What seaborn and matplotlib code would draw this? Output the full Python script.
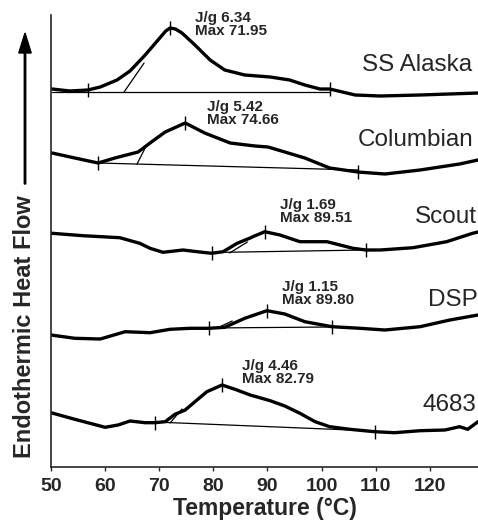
import seaborn as sns
import numpy as np
import matplotlib.pyplot as plt
import pandas as pd

# DSC scans, temperature (°C) vs endothermic heat flow (arbitrary, stacked units)
alaska_t = [50.2, 53.5, 56.8, 59.1, 62.2, 64.6, 67.4, 70.1, 71.2, 72.0, 73.0, 74.2, 76.6, 79.4,
            82.1, 85.8, 90.5, 94.1, 96.9, 99.7, 101.5, 106.2, 110.8, 118.2, 128.9]
alaska_hf = [378, 376, 377, 380, 387, 396, 412, 429, 436, 439, 438, 434, 422, 407,
             397, 392, 390, 387, 382, 378, 378, 372, 371, 372, 374]

columbian_t = [50.2, 54.4, 58.7, 61.8, 66.1, 68.3, 71.1, 74.8, 78.4, 83.1, 87.7, 90.1,
               93.2, 96.9, 101.5, 106.7, 111.7, 118.2, 125.5, 128.9]
columbian_hf = [314, 309, 304, 309, 315, 324, 335, 344, 334, 324, 321, 320,
                315, 309, 299, 295, 293, 297, 303, 307]

scout_t = [50.2, 55.9, 62.7, 66.4, 68.3, 70.7, 74.4, 77.0, 79.7, 81.8, 84.4, 86.8,
           87.3, 89.5, 92.3, 96.0, 101.0, 103.4, 105.8, 108.2, 110.8, 116.9, 123.1,
           127.9, 128.9]
scout_hf = [233.7, 231.3, 229.3, 223.7, 218.7, 214.7, 217, 215.3, 213.7, 215.3, 223.7, 229,
            230.3, 235.3, 232, 225.3, 225.3, 222, 218.7, 217, 217, 219.3, 225.3,
            233.7, 235]

dsp_t = [50.0, 54.4, 59.1, 63.7, 68.3, 72.0, 75.7, 79.2, 82.1, 85.8, 89.9, 93.2,
         96.9, 101.9, 107.1, 111.7, 118.2, 123.7, 128.9]
dsp_hf = [132, 128.7, 128, 135.3, 134.3, 137.7, 138.7, 138.7, 139.7, 148.7, 156.3, 153,
          145.3, 140.3, 138.7, 137, 140.3, 147, 152]

s4683_t = [50.0, 54.4, 60.0, 62.4, 64.6, 67.4, 69.2, 71.1, 72.9, 74.8, 76.6, 78.8,
           81.6, 84.0, 86.8, 90.5, 93.2, 96.0, 98.8, 101.5, 105.2, 109.8, 113.5,
           118.2, 122.8, 125.5, 127.0, 128.9]
s4683_hf = [54.3, 47.7, 39.7, 42, 46, 44.3, 44.3, 45.3, 52.7, 57, 65.3, 75.3,
            82, 77.7, 72, 66.3, 61, 53.7, 45.3, 40.3, 37.7, 35.3, 34.3,
            36.3, 37, 40.3, 37.7, 45.3]

names = ["SS Alaska", "Columbian", "Scout", "DSP", "4683"]
enthalpy = ["6.34", "5.42", "1.69", "1.15", "4.46"]
peak_max = ["71.95", "74.66", "89.51", "89.80", "82.79"]

# onset / peak / end marks (temperature, heat flow)
mark_t = [[56.8, 72.0, 101.5], [58.7, 74.8, 106.7], [79.7, 89.5, 108.2],
          [79.2, 89.9, 101.9], [69.2, 81.6, 109.8]]
mark_hf = [[377, 439, 378], [304, 344, 295], [214, 235, 217],
           [139, 156, 140], [44, 82, 35]]
# integration baselines and onset tangents: (t1, hf1, t2, hf2)
baselines = [(50.2, 375.5, 101.5, 375.5), (58.7, 304, 106.7, 297), (79.7, 214.5, 108.2, 217),
             (79.2, 139, 101.9, 140), (69.2, 45, 109.8, 36)]
tangents = [(63.5, 375, 67.2, 404), (65.9, 303, 67.4, 319), (83.0, 214, 86.3, 225),
            (80.5, 138.5, 83.5, 146), (72.0, 44, 74.2, 58)]

curves = [(alaska_t, alaska_hf), (columbian_t, columbian_hf), (scout_t, scout_hf),
          (dsp_t, dsp_hf), (s4683_t, s4683_hf)]

# label positions
ann_xy = [(76.6, 456), (78.8, 367), (92.3, 269), (92.7, 187), (85.3, 108)]
name_xy = [(107.4, 402), (106.7, 327), (117.2, 250), (119.6, 167), (118.7, 62)]

sns.set_style("ticks")
plt.rcParams["font.family"] = ["Liberation Sans", "DejaVu Sans"]

fig = plt.figure(figsize=(4.78, 5.2), dpi=100)
ax = fig.add_axes([51 / 478, 53 / 520, 427 / 478, 452 / 520])

for i, (t, hf) in enumerate(curves):
    df = pd.DataFrame({"T": t, "HF": hf})
    sns.lineplot(data=df, x="T", y="HF", sort=False, estimator=None,
                 color="black", linewidth=2.4, ax=ax)
    b = baselines[i]
    ax.plot([b[0], b[2]], [b[1], b[3]], color="black", linewidth=0.9)
    g = tangents[i]
    ax.plot([g[0], g[2]], [g[1], g[3]], color="black", linewidth=0.9)
    ax.vlines(mark_t[i], np.array(mark_hf[i]) - 7, np.array(mark_hf[i]) + 7,
              color="black", linewidth=1.0)
    ax.text(ann_xy[i][0], ann_xy[i][1], "J/g {}\nMax {}".format(enthalpy[i], peak_max[i]),
            fontsize=11, fontweight="bold", va="top", ha="left", linespacing=0.95)
    ax.text(name_xy[i][0], name_xy[i][1], names[i], fontsize=17.5, va="center", ha="left",
            clip_on=False)

ax.set_xlim(50, 128.9)
ax.set_ylim(0, 452)
ax.set_xticks([50, 60, 70, 80, 90, 100, 110, 120])
ax.set_yticks([])
ax.tick_params(axis="x", labelsize=14, length=3, width=1, pad=5)
for lab in ax.get_xticklabels():
    lab.set_fontweight("bold")
ax.set_xlabel("Temperature (°C)", fontsize=16.5, fontweight="bold", labelpad=1)
ax.set_ylabel("")
sns.despine(ax=ax, top=True, right=True)
ax.spines["left"].set_linewidth(1.2)
ax.spines["bottom"].set_linewidth(1.2)

fig.text(25 / 478, 1 - 458 / 520, "Endothermic Heat Flow", rotation=90, ha="center",
         va="bottom", fontsize=17, fontweight="bold")
fig.patches.append(plt.matplotlib.patches.FancyArrow(
    25 / 478, 1 - 184 / 520, 0, 151 / 520, width=0.003, head_width=0.026,
    head_length=20 / 520, length_includes_head=True, color="black",
    transform=fig.transFigure, figure=fig))

fig.savefig("out.png", dpi=100)
